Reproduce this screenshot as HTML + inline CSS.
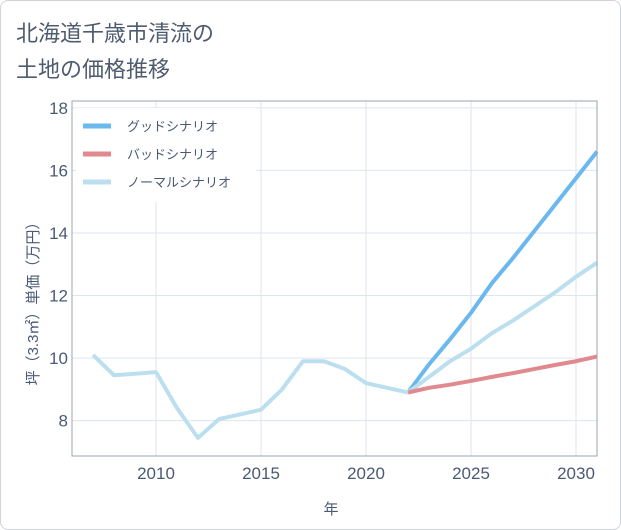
<!DOCTYPE html>
<html><head><meta charset="utf-8"><style>
body{margin:0;background:#fff;font-family:"Liberation Sans","Noto Sans CJK JP",sans-serif;}
#card{position:absolute;left:0;top:0;width:619px;height:528px;border:1px solid #d0d4da;border-radius:8px;background:#fff;}
</style></head><body>
<div id="card"></div>
<svg id="chart" width="621" height="530" style="position:absolute;left:0;top:0">
<text x="16" y="41" font-size="22" fill="#4f5b6e">北海道千歳市清流の</text>
<text x="16" y="77" font-size="22" fill="#4f5b6e">土地の価格推移</text>
<g id="grid"></g><g id="marks"></g><g id="axes"></g>
<text x="331" y="514" font-size="15" fill="#4a5a75" text-anchor="middle">年</text>
<text transform="translate(38,300) rotate(-90)" font-size="15" fill="#4a5a75" text-anchor="middle">坪（3.3㎡）単価（万円）</text>
<g>
<rect x="76" y="108" width="180" height="94" fill="#fff"/>
<line x1="83" y1="126" x2="111" y2="126" stroke="#6bb8ee" stroke-width="5"/>
<text x="127" y="131" font-size="13" fill="#4a5a75">グッドシナリオ</text>
<line x1="83" y1="154" x2="111" y2="154" stroke="#e08a90" stroke-width="5"/>
<text x="127" y="159" font-size="13" fill="#4a5a75">バッドシナリオ</text>
<line x1="83" y1="182" x2="111" y2="182" stroke="#bcdff0" stroke-width="5"/>
<text x="127" y="187" font-size="13" fill="#4a5a75">ノーマルシナリオ</text>
</g>
</svg>
<script>
const histYears=[2007,2008,2009,2010,2011,2012,2013,2014,2015,2016,2017,2018,2019,2020,2021,2022];
const histValues=[10.1,9.45,9.5,9.55,8.4,7.45,8.05,8.2,8.35,9.0,9.9,9.9,9.65,9.2,9.05,8.9];
const futYears=[2022,2023,2024,2025,2026,2027,2028,2029,2030,2031];
const goodValues=[8.9,9.8,10.6,11.45,12.4,13.2,14.05,14.9,15.75,16.6];
const badValues=[8.9,9.05,9.15,9.27,9.4,9.52,9.65,9.78,9.9,10.05];
const normalValues=[8.9,9.4,9.9,10.3,10.8,11.2,11.65,12.1,12.6,13.05];
const xTicks=[2010,2015,2020,2025,2030];
const yTicks=[8,10,12,14,16,18];
const L=72,R=597,T=101,B=456,x0=2006,x1=2031,y0=6.87,y1=18.22;
const X=v=>L+(v-x0)/(x1-x0)*(R-L), Y=v=>B-(v-y0)/(y1-y0)*(B-T);
const ns="http://www.w3.org/2000/svg";
function mk(p,t,a){const e=document.createElementNS(ns,t);for(const k in a)e.setAttribute(k,a[k]);document.getElementById(p).appendChild(e);return e;}
xTicks.forEach(v=>{const e=mk('grid','line',{x1:X(v),x2:X(v),y1:T,y2:B,stroke:'#dde6ee'});


const t=mk('axes','text',{x:X(v),y:B+23,'font-size':17,fill:'#4a5a75','text-anchor':'middle'});t.textContent=v;

});
yTicks.forEach(v=>{const e=mk('grid','line',{x1:L,x2:R,y1:Y(v),y2:Y(v),stroke:'#dde6ee'});


const t=mk('axes','text',{x:L-4,y:Y(v)+6,'font-size':17,fill:'#4a5a75','text-anchor':'end'});t.textContent=v;

});
const fr=mk('axes','rect',{x:L,y:T,width:R-L,height:B-T,fill:'none',stroke:'#9aa4ae'});


function line(xs,ys,c,n){const e=mk('marks','polyline',{points:xs.map((x,i)=>X(x)+','+Y(ys[i])).join(' '),fill:'none',stroke:c,'stroke-width':4,'stroke-linejoin':'round'});

}
line(futYears,goodValues,'#6bb8ee','good-scenario-line');
line(futYears,normalValues,'#bcdff0','normal-scenario-line');
line(futYears,badValues,'#e08a90','bad-scenario-line');
line(histYears,histValues,'#bcdff0','history-line');
</script>
</body></html>
